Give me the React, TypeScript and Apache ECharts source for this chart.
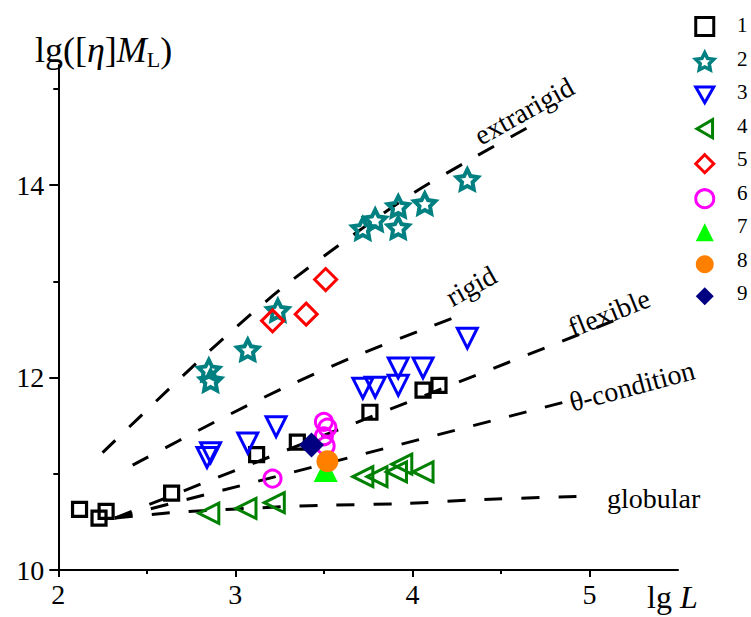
import { useEffect, useRef } from 'react';
import * as echarts from 'echarts';

const FONT = '"Liberation Serif", "Times New Roman", serif';

// axis ticks
const xMajor = [2, 3, 4, 5];
const xMinor = [2.5, 3.5, 4.5];
const yMajor = [10, 12, 14];
const yMinor = [11, 13, 15];

// experimental points: [lg L, lg([eta] M_L)]
const set1 = [[2.12, 10.63], [2.23, 10.54], [2.27, 10.61], [2.64, 10.8], [3.12, 11.2], [3.35, 11.33], [3.76, 11.64], [4.06, 11.87], [4.15, 11.92]];
const set2 = [[2.85, 12.08], [2.86, 11.97], [3.07, 12.29], [3.24, 12.7], [3.72, 13.55], [3.79, 13.64], [3.92, 13.78], [3.92, 13.56], [4.07, 13.81], [4.31, 14.06]];
const set3 = [[2.86, 11.22], [2.84, 11.17], [3.07, 11.32], [3.23, 11.49], [3.72, 11.89], [3.79, 11.9], [3.92, 11.92], [3.92, 12.1], [4.06, 12.1], [4.31, 12.41]];
const set4 = [[2.85, 10.59], [3.06, 10.64], [3.22, 10.7], [3.72, 10.97], [3.8, 10.97], [3.91, 11.02], [3.94, 11.1], [4.06, 11.02]];
const set5 = [[3.21, 12.59], [3.4, 12.66], [3.51, 13.02]];
const set6 = [[3.21, 10.95], [3.5, 11.54], [3.52, 11.48], [3.5, 11.39], [3.51, 11.29]];
const set7 = [[3.51, 11.04]];
const set8 = [[3.52, 11.13]];
const set9 = [[3.43, 11.3]];

// model curves
const extrarigid = [[2.25, 11.22], [2.63, 11.89], [2.94, 12.42], [3.27, 12.94], [3.61, 13.41], [3.99, 13.9], [4.34, 14.28], [4.73, 14.68]];
const rigid = [[2.42, 11.09], [2.885, 11.54], [3.27, 11.89], [3.66, 12.21], [4.06, 12.5], [4.26, 12.64]];
const flexible = [[2.32, 10.54], [5.19, 12.63]];
const thetaCond = [[2.32, 10.54], [4.91, 11.77]];
const globular = [[2.32, 10.54], [2.67, 10.6], [3.29, 10.66], [3.55, 10.675], [3.95, 10.69], [4.37, 10.73], [5.01, 10.77]];

const seriesNames = ['1', '2', '3', '4', '5', '6', '7', '8', '9'];

function starPath(inner: number): string {
  const pts: string[] = [];
  for (let i = 0; i < 10; i++) {
    const a = (-90 + i * 36) * Math.PI / 180;
    const r = i % 2 === 0 ? 1 : inner;
    pts.push(`${(r * Math.cos(a)).toFixed(4)},${(r * Math.sin(a)).toFixed(4)}`);
  }
  return 'path://M' + pts.join('L') + 'Z';
}

const HOLLOW = 'rgba(0,0,0,0)';
const STAR = starPath(0.5);
const TRI_DOWN = 'path://M0,0L2,0L1,1.732Z';
const TRI_LEFT = 'path://M0,1L1.732,0L1.732,2Z';

// legend layout
const LEGEND_TOP = 16;
const LEGEND_ICON = 18;
const LEGEND_STEP = 33.5;
const LEGEND_ROW = 19.5; // rendered height of one legend row

export default function App() {
  const ref = useRef<HTMLDivElement>(null);

  useEffect(() => {
    if (!ref.current) return;
    const chart = echarts.init(ref.current, undefined, { renderer: 'svg' });

    const curve = (name: string, data: number[][], smooth: number | boolean) => ({
      name,
      type: 'line',
      data,
      smooth,
      symbol: 'none',
      silent: true,
      z: 1,
      lineStyle: { color: '#000', width: 3, type: [18, 19] },
    });

    const hollow = (name: string, data: number[][], symbol: string, size: number, color: string, rotate = 0, bw = 3) => ({
      name,
      type: 'scatter',
      data,
      symbol,
      symbolSize: size,
      symbolRotate: rotate,
      symbolKeepAspect: true,
      z: 3,
      itemStyle: { color: HOLLOW, borderColor: color, borderWidth: bw, opacity: 1 },
    });

    const solid = (name: string, data: number[][], symbol: string, size: number, color: string) => ({
      name,
      type: 'scatter',
      data,
      symbol,
      symbolSize: size,
      z: 4,
      itemStyle: { color, opacity: 1 },
    });

    const tickLine = { color: '#000', width: 2 };
    const big = (t: string, x: number, y: number, deg: number, size = 28) => ({
      type: 'text',
      x,
      y,
      rotation: (deg * Math.PI) / 180,
      style: {
        text: t,
        fontSize: size,
        fontFamily: FONT,
        fill: '#000',
        textAlign: 'center',
        textVerticalAlign: 'middle',
        align: 'center',
        verticalAlign: 'middle',
      },
    });

    // legend entries carry their own icon styling
    const legendStyle: Record<string, any> = {
      '1': { icon: 'rect', itemStyle: { color: HOLLOW, borderColor: '#000', borderWidth: 3 } },
      '2': { icon: STAR, itemStyle: { color: HOLLOW, borderColor: '#008080', borderWidth: 3.5 } },
      '3': { icon: TRI_DOWN, itemStyle: { color: HOLLOW, borderColor: '#0000ff', borderWidth: 3 } },
      '4': { icon: TRI_LEFT, itemStyle: { color: HOLLOW, borderColor: '#008000', borderWidth: 3 } },
      '5': { icon: 'diamond', itemStyle: { color: HOLLOW, borderColor: '#ff0000', borderWidth: 3 } },
      '6': { icon: 'circle', itemStyle: { color: HOLLOW, borderColor: '#ff00ff', borderWidth: 3 } },
      '7': { icon: 'triangle', itemStyle: { color: '#00ff00', borderWidth: 0 } },
      '8': { icon: 'circle', itemStyle: { color: '#ff8000', borderWidth: 0 } },
      '9': { icon: 'diamond', itemStyle: { color: '#000080', borderWidth: 0 } },
    };

    // legend numbers, one per row next to the icons
    const legendLabels = seriesNames.map((n, i) => ({
      type: 'text',
      x: 737,
      y: LEGEND_TOP + LEGEND_ICON / 2 + i * LEGEND_STEP,
      style: { text: n, fontSize: 21, fontFamily: FONT, fill: '#000', verticalAlign: 'middle', textVerticalAlign: 'middle' },
    }));

    chart.setOption({
      animation: false,
      backgroundColor: '#fff',
      grid: { left: 58.3, right: 73, top: 65, bottom: 47, containLabel: false },
      xAxis: [
        {
          type: 'value',
          min: 2,
          max: 5.5,
          axisLine: { show: true, lineStyle: tickLine },
          axisTick: { show: true, length: 7, lineStyle: tickLine, customValues: xMajor },
          axisLabel: { customValues: xMajor, fontSize: 28, fontFamily: FONT, color: '#000', margin: 10 },
          splitLine: { show: false },
        },
        {
          type: 'value',
          min: 2,
          max: 5.5,
          position: 'bottom',
          axisLine: { show: false },
          axisTick: { show: true, length: 4, lineStyle: tickLine, customValues: xMinor },
          axisLabel: { show: false },
          splitLine: { show: false },
        },
      ],
      yAxis: [
        {
          type: 'value',
          min: 10,
          max: 15.25,
          axisLine: { show: true, lineStyle: tickLine },
          axisTick: { show: true, length: 9, lineStyle: tickLine, customValues: yMajor },
          axisLabel: { customValues: yMajor, fontSize: 28, fontFamily: FONT, color: '#000', margin: 14 },
          splitLine: { show: false },
        },
        {
          type: 'value',
          min: 10,
          max: 15.25,
          position: 'left',
          axisLine: { show: false },
          axisTick: { show: true, length: 5, lineStyle: tickLine, customValues: yMinor },
          axisLabel: { show: false },
          splitLine: { show: false },
        },
      ],
      legend: {
        orient: 'vertical',
        left: 694,
        top: LEGEND_TOP,
        padding: 0,
        itemWidth: LEGEND_ICON,
        itemHeight: LEGEND_ICON,
        itemGap: LEGEND_STEP - LEGEND_ROW,
        data: seriesNames.map((n) => ({ name: n, ...legendStyle[n] })),
        formatter: () => '',
        textStyle: { fontSize: 1, lineHeight: 1 },
      },
      graphic: [
        {
          type: 'text',
          x: 35,
          y: 50,
          style: {
            text: '{n|lg([}{i|η}{n|]}{i|M}{s|L}{n|)}',
            fontFamily: FONT,
            fill: '#000',
            verticalAlign: 'middle',
            textVerticalAlign: 'middle',
            rich: {
              n: { fontSize: 36, fontFamily: FONT, lineHeight: 40, verticalAlign: 'middle' },
              i: { fontSize: 36, fontFamily: FONT, fontStyle: 'italic', lineHeight: 40, verticalAlign: 'middle' },
              s: { fontSize: 22, fontFamily: FONT, lineHeight: 22, verticalAlign: 'bottom' },
            },
          },
        },
        {
          type: 'text',
          x: 647,
          y: 597,
          style: {
            text: '{n|lg }{i|L}',
            fontFamily: FONT,
            fill: '#000',
            verticalAlign: 'middle',
            textVerticalAlign: 'middle',
            rich: {
              n: { fontSize: 32, fontFamily: FONT },
              i: { fontSize: 32, fontFamily: FONT, fontStyle: 'italic' },
            },
          },
        },
        big('extrarigid', 524, 111, 29),
        big('rigid', 471, 286, 29),
        big('flexible', 609, 313, 22),
        big('θ-condition', 632, 386, 15),
        {
          type: 'text',
          x: 607,
          y: 498,
          style: { text: 'globular', fontSize: 28, fontFamily: FONT, fill: '#000', verticalAlign: 'middle', textVerticalAlign: 'middle' },
        },
        ...legendLabels,
      ],
      series: [
        curve('extrarigid', extrarigid, 0.3),
        curve('rigid', rigid, 0.3),
        curve('flexible', flexible, false),
        curve('θ-condition', thetaCond, false),
        curve('globular', globular, 0.3),
        hollow('1', set1, 'rect', 14, '#000000', 0, 3.2),
        hollow('2', set2, STAR, 21, '#008080', 0, 4),
        hollow('3', set3, 'triangle', 20, '#0000ff', 180),
        hollow('4', set4, 'triangle', 20, '#008000', 90),
        hollow('5', set5, 'diamond', 22, '#ff0000'),
        hollow('6', set6, 'circle', 17, '#ff00ff'),
        solid('7', set7, 'triangle', 24, '#00ff00'),
        solid('8', set8, 'circle', 22, '#ff8000'),
        solid('9', set9, 'diamond', 25, '#000080'),
      ],
    });

    return () => chart.dispose();
  }, []);

  return <div ref={ref} style={{ position: 'absolute', left: 0, top: 0, width: 751, height: 617 }} />;
}
